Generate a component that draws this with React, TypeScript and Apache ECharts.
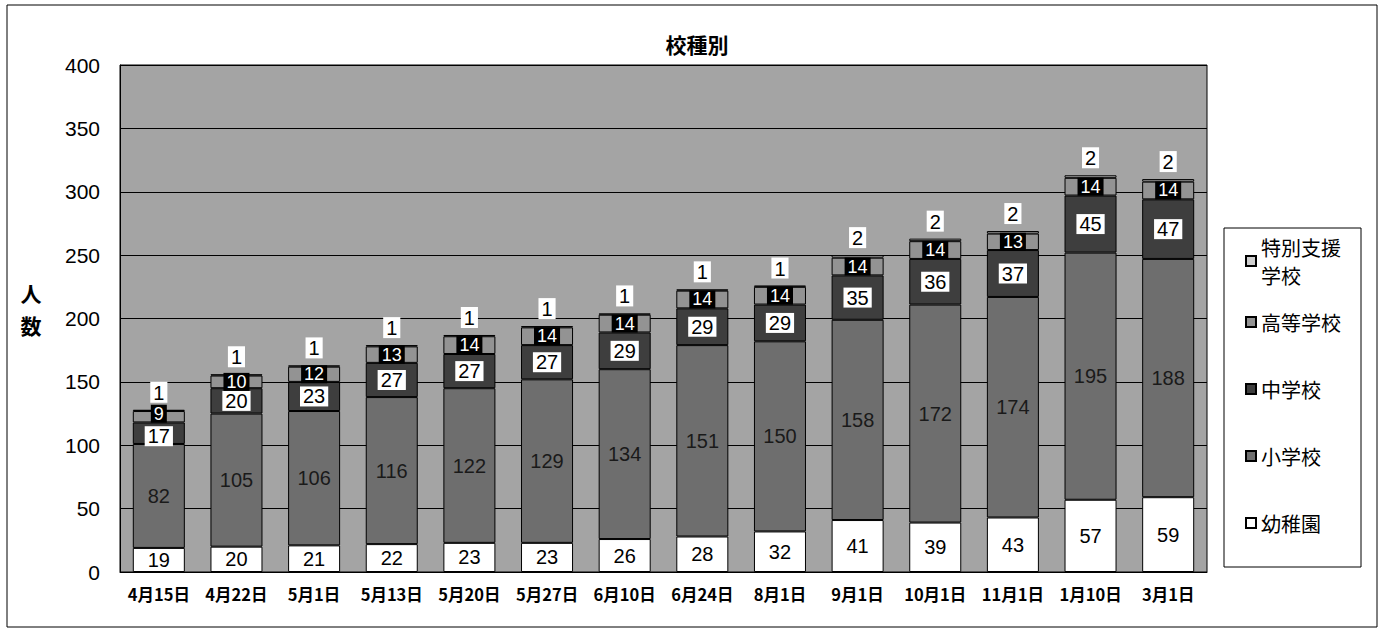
import React, { useEffect, useRef } from "react";
import * as echarts from "echarts";

const categories = ["4月15日", "4月22日", "5月1日", "5月13日", "5月20日", "5月27日", "6月10日", "6月24日", "8月1日", "9月1日", "10月1日", "11月1日", "1月10日", "3月1日"];
const kindergarten = [19, 20, 21, 22, 23, 23, 26, 28, 32, 41, 39, 43, 57, 59];
const elementary = [82, 105, 106, 116, 122, 129, 134, 151, 150, 158, 172, 174, 195, 188];
const juniorHigh = [17, 20, 23, 27, 27, 27, 29, 29, 29, 35, 36, 37, 45, 47];
const highSchool = [9, 10, 12, 13, 14, 14, 14, 14, 14, 14, 14, 13, 14, 14];
const specialNeeds = [1, 1, 1, 1, 1, 1, 1, 1, 1, 2, 2, 2, 2, 2];
const yTicks = [0, 50, 100, 150, 200, 250, 300, 350, 400];

const NUM_FONT = "'Liberation Sans', Arial, sans-serif";
const JP_FONT = "'Noto Sans CJK JP', sans-serif";

export default function App() {
  const ref = useRef<HTMLDivElement>(null);
  useEffect(() => {
    if (!ref.current) return;
    const chart = echarts.init(ref.current, null, { renderer: "svg" });
    const border = { borderColor: "#000", borderWidth: 1 };
    const mk = (name: string, data: any[], color: string, label: any) => ({
      name,
      type: "bar",
      stack: "total",
      data,
      barWidth: "67%",
      itemStyle: { color, ...border },
      label: { show: true, fontFamily: NUM_FONT, fontSize: 20, ...label },
    });
    // the first bar is short in its upper segments: nudge its two labels apart a little
    const nudge = (arr: number[], dy: number) =>
      arr.map((v, i) => (i === 0 ? { value: v, label: { offset: [0, dy] } } : v));
    const legendBase = {
      orient: "vertical",
      left: 1245,
      padding: 0,
      itemWidth: 10,
      itemHeight: 10,
      icon: "rect",
      textStyle: { fontFamily: JP_FONT, fontSize: 20, color: "#000", lineHeight: 28 },
    };
    const yName = (t: string, y: number) => ({
      type: "text",
      x: 31,
      y,
      style: {
        text: t,
        fontFamily: JP_FONT,
        fontSize: 21,
        fontWeight: "bold",
        fill: "#000",
        align: "center",
        verticalAlign: "middle",
      },
    });
    chart.setOption({
      animation: false,
      backgroundColor: "#fff",
      title: {
        text: "校種別",
        left: 692,
        top: 28,
        textAlign: "center",
        textStyle: { fontFamily: JP_FONT, fontSize: 21, fontWeight: "bold", color: "#000" },
      },
      graphic: [
        {
          type: "rect",
          shape: { x: 7, y: 5, width: 1370, height: 622 },
          style: { fill: "none", stroke: "#000", lineWidth: 1 },
          silent: true,
        },
        {
          type: "rect",
          shape: { x: 1224, y: 228, width: 137, height: 339 },
          style: { fill: "none", stroke: "#000", lineWidth: 1 },
          silent: true,
        },
        yName("人", 293),
        yName("数", 325),
      ],
      legend: [
        {
          ...legendBase,
          top: 233,
          data: ["特別支援学校"],
          formatter: () => "特別支援\n学校",
        },
        {
          ...legendBase,
          top: 308,
          itemGap: 39,
          data: ["高等学校", "中学校", "小学校", "幼稚園"],
        },
      ],
      grid: {
        left: 120,
        right: 180,
        top: 65,
        bottom: 62,
        show: true,
        backgroundColor: "#a4a4a4",
        borderColor: "#000",
        borderWidth: 1,
      },
      xAxis: {
        type: "category",
        data: categories,
        axisTick: { show: false },
        axisLine: { lineStyle: { color: "#000" } },
        axisLabel: { interval: 0, fontFamily: JP_FONT, fontSize: 16.5, fontWeight: "bold", color: "#000", margin: 14 },
      },
      yAxis: {
        type: "value",
        min: yTicks[0],
        max: yTicks[yTicks.length - 1],
        interval: 50,
        axisLine: { show: true, lineStyle: { color: "#000" } },
        axisTick: { show: false },
        splitLine: { lineStyle: { color: "#000", width: 1 } },
        axisLabel: { fontFamily: NUM_FONT, fontSize: 21, color: "#000", margin: 20 },
      },
      series: [
        mk("幼稚園", kindergarten, "#ffffff", { position: "inside", color: "#000" }),
        mk("小学校", elementary, "#6e6e6e", { position: "inside", color: "#1a1a1a" }),
        mk("中学校", nudge(juniorHigh, 3), "#3e3e3e", {
          position: "inside",
          color: "#000",
          backgroundColor: "#fff",
          padding: [0, 3, 0, 3],
        }),
        mk("高等学校", nudge(highSchool, -3), "#939393", {
          position: "inside",
          color: "#fff",
          fontSize: 18,
          backgroundColor: "#000",
          padding: [0, 3, 0, 3],
        }),
        mk("特別支援学校", specialNeeds, "#cfcfcf", {
          position: "top",
          distance: 7,
          color: "#000",
          backgroundColor: "#fff",
          padding: [1, 3, 0, 3],
        }),
      ],
    });
    return () => chart.dispose();
  }, []);
  return (
    <div
      ref={ref}
      style={{ position: "absolute", left: 0, top: 0, width: 1387, height: 634, background: "#fff" }}
    />
  );
}
